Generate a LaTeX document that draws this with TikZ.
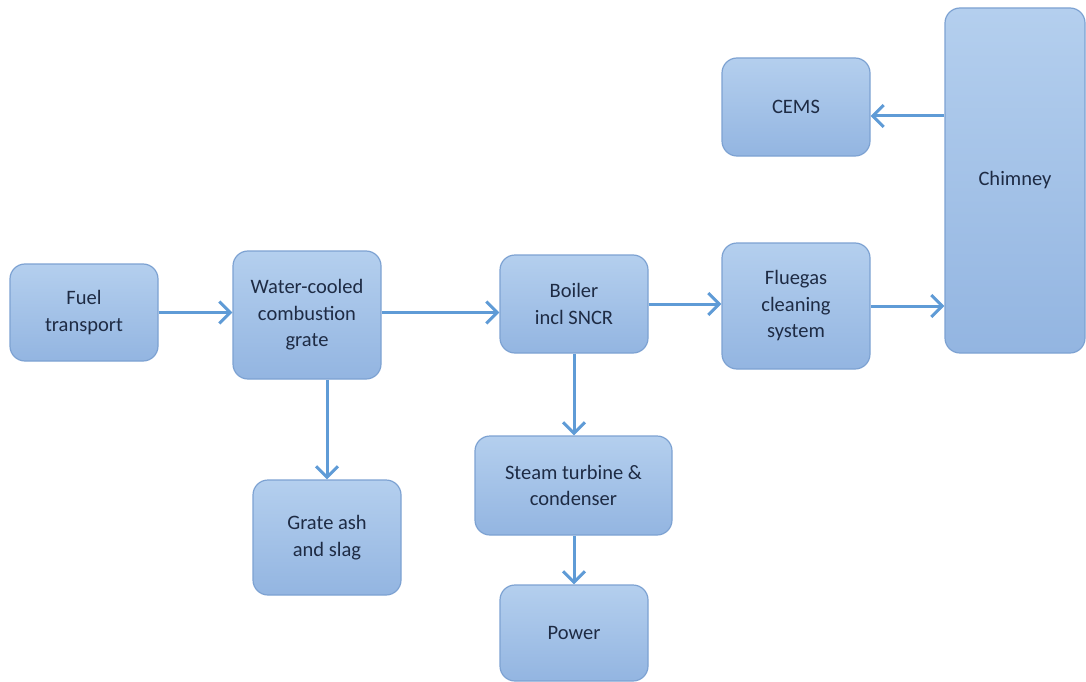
\documentclass[tikz,border=0pt]{standalone}
\usepackage{fontspec}
\setmainfont{Carlito}
\usetikzlibrary{arrows.meta,calc}
\definecolor{boxtop}{HTML}{B4CFEE}
\definecolor{boxbot}{HTML}{93B5E1}
\definecolor{boxline}{HTML}{7DA2D2}
\definecolor{arrowc}{HTML}{5F9BD6}
\definecolor{txt}{HTML}{1E2B44}
\begin{document}
\begin{tikzpicture}[x=1pt,y=-1pt,
  box/.style={draw=boxline, line width=1.2pt, rounded corners=15pt,
    top color=boxtop, bottom color=boxbot, text=txt, align=center,
    inner sep=0pt, font=\fontsize{20.5}{26.5}\selectfont},
  flow/.style={draw=arrowc, line width=3pt,
    -{Straight Barb[length=11pt,width=22pt,line width=3pt]}}]
\useasboundingbox (0,0) rectangle (1086,682);
\node[box, minimum width=148pt, minimum height=97pt] (fuel) at (84,312.5) {Fuel\\transport};
\node[box, minimum width=148pt, minimum height=128pt] (grate) at (307,315) {Water-cooled\\combustion\\grate};
\node[box, minimum width=148pt, minimum height=98pt] (boiler) at (574,304) {Boiler\\incl SNCR};
\node[box, minimum width=148pt, minimum height=126pt] (flue) at (796,306) {Fluegas\\cleaning\\system};
\node[box, minimum width=140pt, minimum height=345pt] (chim) at (1015,180.5) {Chimney};
\node[box, minimum width=148pt, minimum height=98pt] (cems) at (796,107) {CEMS};
\node[box, minimum width=148pt, minimum height=115pt] (ash) at (327,537.5) {Grate ash\\and slag};
\node[box, minimum width=197pt, minimum height=99pt] (steam) at (573.5,485.5) {Steam turbine \&\\condenser};
\node[box, minimum width=148pt, minimum height=96pt] (power) at (574,633) {Power};
\draw[flow] (fuel.east) -- (fuel.east -| grate.west);
\draw[flow] (fuel.east -| grate.east) -- (fuel.east -| boiler.west);
\draw[flow] (boiler.east) -- (boiler.east -| flue.west);
\draw[flow] (flue.east) -- (flue.east -| chim.west);
\draw[flow] ([yshift=-9pt]cems.east -| chim.west) -- ([yshift=-9pt]cems.east);
\draw[flow] (grate.south -| ash.north) -- (ash.north);
\draw[flow] (boiler.south) -- (boiler.south |- steam.north);
\draw[flow] (steam.south -| power.north) -- (power.north);
\end{tikzpicture}
\end{document}
